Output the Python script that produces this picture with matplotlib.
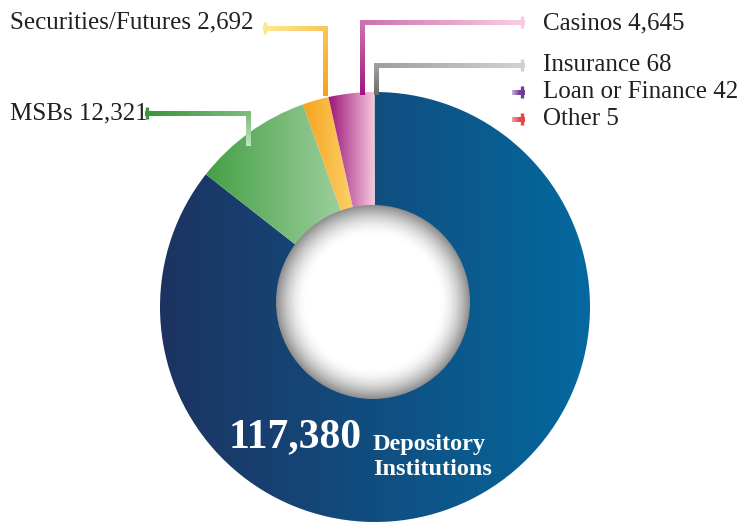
import numpy as np
import matplotlib.pyplot as plt
from matplotlib.colors import LinearSegmentedColormap, to_rgb
from matplotlib.patches import Circle
from matplotlib.collections import LineCollection

# data
categories = ["Depository Institutions", "MSBs", "Securities/Futures", "Casinos",
              "Insurance", "Loan or Finance", "Other"]
counts = [117380, 12321, 2692, 4645, 68, 42, 5]

# gradient pairs (left, right) for each slice
slice_grads = [("#1d3361", "#04699f"), ("#45a046", "#b3dab3"), ("#f6a41c", "#fde58e"),
               ("#9a1479", "#f7c9de"), ("#777777", "#cccccc"), ("#6a3d9a", "#c9b0e0"),
               ("#e8434a", "#f5a0a0")]

W, H = 744, 525
fig = plt.figure(figsize=(7.44, 5.25), dpi=100)
ax = fig.add_axes([0, 0, 1, 1])
plt.rcParams['font.family'] = ['Liberation Serif', 'DejaVu Serif']

cx, cy, R = 375, 218, 215

wedges, _ = ax.pie(counts, startangle=90, counterclock=False, center=(cx, cy),
                   radius=R, frame=True, wedgeprops=dict(linewidth=0))


def fill_gradient(patch, c0, c1, x0, x1):
    cmap = LinearSegmentedColormap.from_list('g', [c0, c1])
    grad = np.linspace(0, 1, 256).reshape(1, -1)
    im = ax.imshow(grad, cmap=cmap, extent=(x0, x1, cy - R, cy + R),
                   aspect='auto', zorder=2, interpolation='bilinear')
    im.set_clip_path(patch)
    patch.set_facecolor('none')


for i, w in enumerate(wedges):
    if i == 0:
        x0, x1 = cx - R, cx + R
    else:
        ext = w.get_path().get_extents()
        x0, x1 = ext.x0, ext.x1
    fill_gradient(w, slice_grads[i][0], slice_grads[i][1], x0, x1)

# donut hole with radial shading
icx, icy, ri = 373, 223, 97
xs = np.linspace(-1, 1, 400)
X, Y = np.meshgrid(xs, xs)
r = np.sqrt(X ** 2 + Y ** 2)
shade = 1 - 0.45 * np.clip((r - 0.68) / 0.32, 0, 1) ** 1.8
hole = ax.imshow(shade, cmap='gray', vmin=0, vmax=1, extent=(icx - ri, icx + ri, icy - ri, icy + ri),
                 zorder=3, interpolation='bilinear')
hole.set_clip_path(Circle((icx, icy), ri, transform=ax.transData))


def leader(points, c0, c1, lw=2.4):
    pts = [(x, H - y) for x, y in points]
    segs = []
    for (xa, ya), (xb, yb) in zip(pts[:-1], pts[1:]):
        n = 30
        t = np.linspace(0, 1, n + 1)
        xx = xa + (xb - xa) * t
        yy = ya + (yb - ya) * t
        for k in range(n):
            segs.append([(xx[k], yy[k]), (xx[k + 1], yy[k + 1])])
    c0, c1 = np.array(to_rgb(c0)), np.array(to_rgb(c1))
    cols = [c0 + (c1 - c0) * f for f in np.linspace(0, 1, len(segs))]
    lc = LineCollection(segs, colors=cols, linewidths=lw, zorder=4, antialiaseds=False)
    lc.set_capstyle('projecting')
    ax.add_collection(lc)
    xe, ye = pts[-1]
    ax.plot([xe, xe], [ye - 6, ye + 6], color=cols[-1], lw=lw, zorder=4,
            solid_capstyle='butt')


leader([(325, 93), (325, 28), (265, 28)], "#f5a21a", "#fde68e")
leader([(362, 92), (362, 22), (522, 22)], "#a0157d", "#f8cadf")
leader([(376, 92), (376, 65), (522, 65)], "#6a6a6a", "#d0d0d0")
leader([(248, 143), (248, 113), (147, 113)], "#c3e3c3", "#3d963d")
leader([(514, 92), (522, 92)], "#c9b0e0", "#6a3d9a")
leader([(514, 119), (522, 119)], "#f5a0a0", "#e8434a")

tc = "#231f20"
fs = 18
ax.text(10, H - 22, f"{categories[2]} {counts[2]:,}", fontsize=fs, color=tc, va='center')
ax.text(10, H - 113, f"{categories[1]} {counts[1]:,}", fontsize=fs, color=tc, va='center')
ax.text(543, H - 23, f"{categories[3]} {counts[3]:,}", fontsize=fs, color=tc, va='center')
ax.text(543, H - 65, f"{categories[4]} {counts[4]:,}", fontsize=fs, color=tc, va='center')
ax.text(543, H - 92, f"{categories[5]} {counts[5]:,}", fontsize=fs, color=tc, va='center')
ax.text(543, H - 119, f"{categories[6]} {counts[6]:,}", fontsize=fs, color=tc, va='center')

ax.text(229, H - 447, f"{counts[0]:,}", fontsize=30, color='white', va='baseline',
        fontweight='semibold', zorder=5)
ax.text(373, H - 450, "Depository", fontsize=17.5, color='white', fontweight='bold',
        va='baseline', zorder=5)
ax.text(373, H - 475, "Institutions", fontsize=17.5, color='white', fontweight='bold',
        va='baseline', zorder=5)

ax.set_xlim(0, W)
ax.set_ylim(0, H)
ax.axis('off')
fig.savefig("out.png", dpi=100)
